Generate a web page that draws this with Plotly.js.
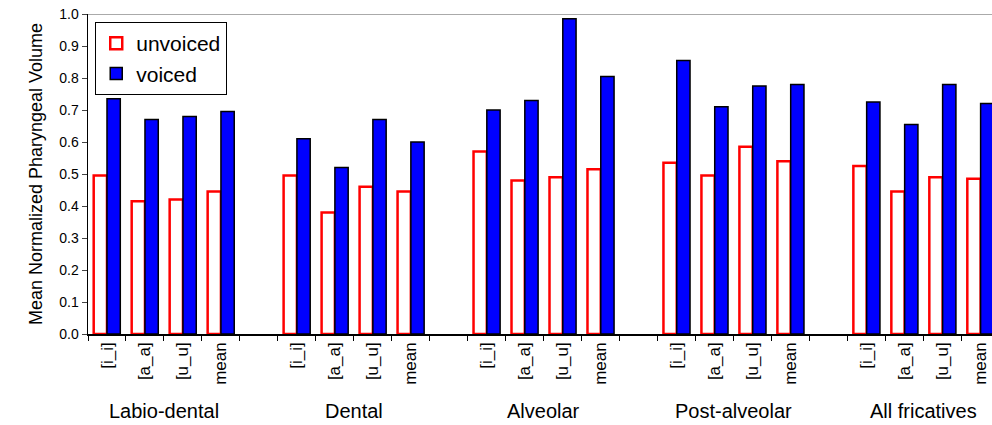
<!DOCTYPE html>
<html>
<head>
<meta charset="utf-8">
<script src="https://cdn.plot.ly/plotly-3.0.1.min.js"></script>
<style>body{margin:0;background:#fff}#plot{width:992px;height:425px}</style>
</head>
<body>
<div id="plot"></div>
<script>
const groups = ['Labio-dental', 'Dental', 'Alveolar', 'Post-alveolar', 'All fricatives'];
const vowels = ['[i_i]', '[a_a]', '[u_u]', 'mean'];

const unvoiced = [
  [0.495, 0.415, 0.42, 0.445],
  [0.495, 0.38, 0.46, 0.445],
  [0.57, 0.48, 0.49, 0.515],
  [0.535, 0.495, 0.585, 0.54],
  [0.525, 0.445, 0.49, 0.485]
];
const voiced = [
  [0.735, 0.67, 0.68, 0.695],
  [0.61, 0.52, 0.67, 0.60],
  [0.70, 0.73, 0.985, 0.805],
  [0.855, 0.71, 0.775, 0.78],
  [0.725, 0.655, 0.78, 0.72]
];

// slot positions: 4 bars per group, one empty slot between groups
let xs = [], labels = [], uv = [], vv = [];
groups.forEach((g, gi) => {
  vowels.forEach((v, vi) => {
    xs.push(gi * 5 + vi);
    labels.push(v);
    uv.push(unvoiced[gi][vi]);
    vv.push(voiced[gi][vi]);
  });
});
const boundaries = [];
for (let i = 0; i <= 24; i++) boundaries.push(i - 0.5);

const unv = {
  x: xs, y: uv, type: 'bar', name: 'unvoiced',
  marker: { color: 'white', line: { color: '#ff0000', width: 2.5 } }
};
const voi = {
  x: xs, y: vv, type: 'bar', name: 'voiced',
  marker: { color: '#0000ff', line: { color: 'black', width: 1.5 } }
};
const tickHolder = {
  x: [0], y: [0], xaxis: 'x2', type: 'scatter', mode: 'markers',
  marker: { opacity: 0 }, showlegend: false, hoverinfo: 'skip'
};

const xr = [-0.5, 23.3];
const layout = {
  width: 992, height: 425,
  margin: { l: 88, r: 0, t: 14, b: 91 },
  font: { family: 'Liberation Sans, Arial, sans-serif', color: 'black' },
  barmode: 'group', bargap: 0.3, bargroupgap: 0,
  plot_bgcolor: 'white', paper_bgcolor: 'white',
  showlegend: true,
  legend: {
    x: 0.008, y: 0.975, xanchor: 'left', yanchor: 'top',
    bordercolor: 'black', borderwidth: 1, font: { size: 21 },
    bgcolor: 'white', itemwidth: 30, tracegroupgap: 0
  },
  xaxis: {
    range: xr, tickvals: xs, ticktext: labels, tickangle: -90,
    tickfont: { size: 17 }, ticks: '', showgrid: false, zeroline: false,
    showline: true, linecolor: 'black', linewidth: 1.5
  },
  xaxis2: {
    overlaying: 'x', range: xr, tickvals: boundaries, ticks: 'outside',
    ticklen: 6, tickcolor: 'black', showticklabels: false, showgrid: false,
    zeroline: false, side: 'bottom', anchor: 'y'
  },
  yaxis: {
    range: [0, 1], dtick: 0.1, tickformat: '.1f', tickfont: { size: 14 },
    ticks: 'outside', ticklen: 5, showgrid: false, zeroline: false,
    showline: true, linecolor: 'black', linewidth: 1.5,
    title: { text: 'Mean Normalized Pharyngeal Volume', font: { size: 18 }, standoff: 12 }
  },
  shapes: [{
    type: 'line', xref: 'paper', yref: 'y', x0: 0, x1: 1, y0: 1, y1: 1,
    line: { color: '#aaaaaa', width: 2 }
  }],
  annotations: groups.map((g, gi) => ({
    text: g, x: gi * 5 + 1.5, xref: 'x', y: -0.24, yref: 'paper',
    yanchor: 'middle', showarrow: false, font: { size: 20 }
  }))
};

Plotly.newPlot('plot', [unv, voi, tickHolder], layout, { staticPlot: true });
</script>
</body>
</html>
